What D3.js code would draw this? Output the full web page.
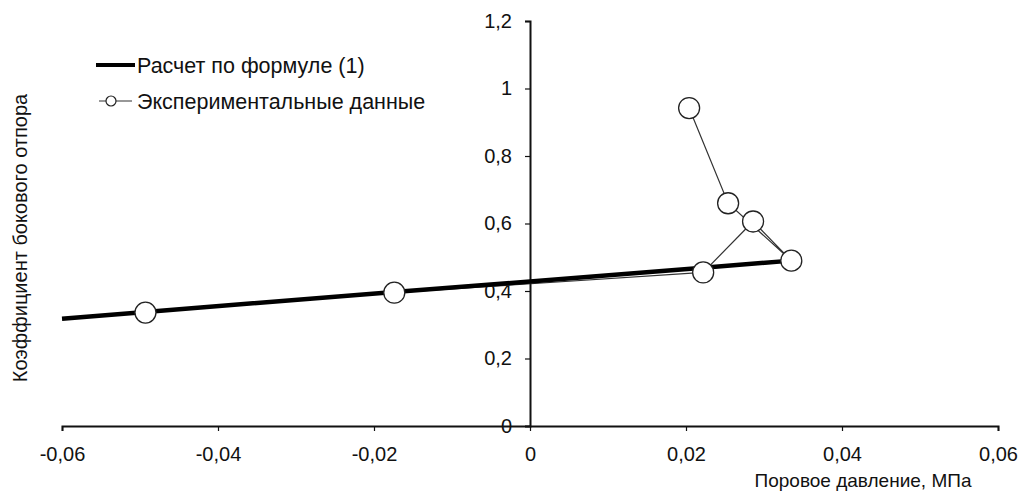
<!DOCTYPE html>
<html>
<head>
<meta charset="utf-8">
<script src="https://cdn.jsdelivr.net/npm/d3@7"></script>
<style>
  body { margin: 0; background: #fff; }
  text { font-family: "Liberation Sans", Arial, sans-serif; fill: #111; }
</style>
</head>
<body>
<svg width="1020" height="491"></svg>
<script>
var xTicks = [-0.06, -0.04, -0.02, 0, 0.02, 0.04, 0.06]
var yTicks = [0, 0.2, 0.4, 0.6, 0.8, 1, 1.2]

// расчет по формуле (1)
var calcX = [-0.06, -0.0493, -0.0174, 0, 0.0222, 0.0335]
var calcY = [0.318, 0.338, 0.397, 0.428, 0.469, 0.49]

// экспериментальные данные
var expX = [-0.0493, -0.0174, 0.0222, 0.0286, 0.0335, 0.0254, 0.0204]
var expY = [0.336, 0.395, 0.455, 0.606, 0.49, 0.66, 0.942]

var legendNames = ['Расчет по формуле (1)', 'Экспериментальные данные']

var width = 1020
var height = 491
var margin = {top: 21, bottom: 65, left: 62, right: 22}

var xScale = d3.scaleLinear()
  .domain([-0.06, 0.06])
  .range([margin.left, width - margin.right])

var yScale = d3.scaleLinear()
  .domain([0, 1.2])
  .range([height - margin.bottom, margin.top])

// запятая и обычный дефис вместо минуса
var fmt = d => String(+d.toFixed(2)).replace('.', ',')

var svg = d3.select('svg')

var xAxis = d3.axisBottom(xScale).tickValues(xTicks).tickSize(5).tickFormat(fmt)
var yAxis = d3.axisLeft(yScale).tickValues(yTicks).tickSize(5).tickFormat(fmt)

var gx = svg.append('g')
  .attr('transform', 'translate(' + [0, yScale(0)] + ')')
  .call(xAxis)
gx.select('.domain').attr('stroke', '#111').attr('stroke-width', 2)
gx.selectAll('.tick line').attr('stroke', '#111').attr('stroke-width', 1.2)
gx.selectAll('.tick text').attr('font-size', 20).attr('y', 21)

var gy = svg.append('g')
  .attr('transform', 'translate(' + [xScale(0), 0] + ')')
  .call(yAxis)
gy.select('.domain').attr('stroke', '#111').attr('stroke-width', 2)
gy.selectAll('.tick line').attr('stroke', '#111').attr('stroke-width', 1.2)
gy.selectAll('.tick text').attr('font-size', 20).attr('x', -18)

var calc = calcX.map((x, i) => [x, calcY[i]])
var exp = expX.map((x, i) => [x, expY[i]])

var line = d3.line().x(d => xScale(d[0])).y(d => yScale(d[1]))

svg.append('path')
  .datum(exp)
  .attr('d', line)
  .attr('fill', 'none')
  .attr('stroke', '#333')
  .attr('stroke-width', 1.2)

svg.append('path')
  .datum(calc)
  .attr('d', line)
  .attr('fill', 'none')
  .attr('stroke', '#000')
  .attr('stroke-width', 4.5)

svg.selectAll('circle.pt')
  .data(exp)
  .enter().append('circle')
  .attr('class', 'pt')
  .attr('cx', d => xScale(d[0]))
  .attr('cy', d => yScale(d[1]))
  .attr('r', 10.5)
  .attr('fill', '#fff')
  .attr('stroke', '#222')
  .attr('stroke-width', 1.3)

// легенда
var lg = svg.append('g').attr('transform', 'translate(96, 65)')
lg.append('line').attr('x1', 0).attr('x2', 39).attr('y1', 0).attr('y2', 0)
  .attr('stroke', '#000').attr('stroke-width', 4)
lg.append('line').attr('x1', 3).attr('x2', 36).attr('y1', 36).attr('y2', 36)
  .attr('stroke', '#333').attr('stroke-width', 1.2)
lg.append('circle').attr('cx', 15).attr('cy', 36).attr('r', 5)
  .attr('fill', '#fff').attr('stroke', '#222').attr('stroke-width', 1.2)
lg.selectAll('text.lg')
  .data(legendNames)
  .enter().append('text')
  .attr('class', 'lg')
  .attr('x', 41)
  .attr('y', (d, i) => i * 36)
  .attr('dy', '0.35em')
  .attr('font-size', 21.5)
  .text(d => d)

svg.append('text')
  .attr('x', 863)
  .attr('y', 487)
  .attr('text-anchor', 'middle')
  .attr('font-size', 19)
  .text('Поровое давление, МПа')

svg.append('text')
  .attr('transform', 'translate(27, 238) rotate(-90)')
  .attr('text-anchor', 'middle')
  .attr('font-size', 20)
  .text('Коэффициент бокового отпора')
</script>
</body>
</html>
